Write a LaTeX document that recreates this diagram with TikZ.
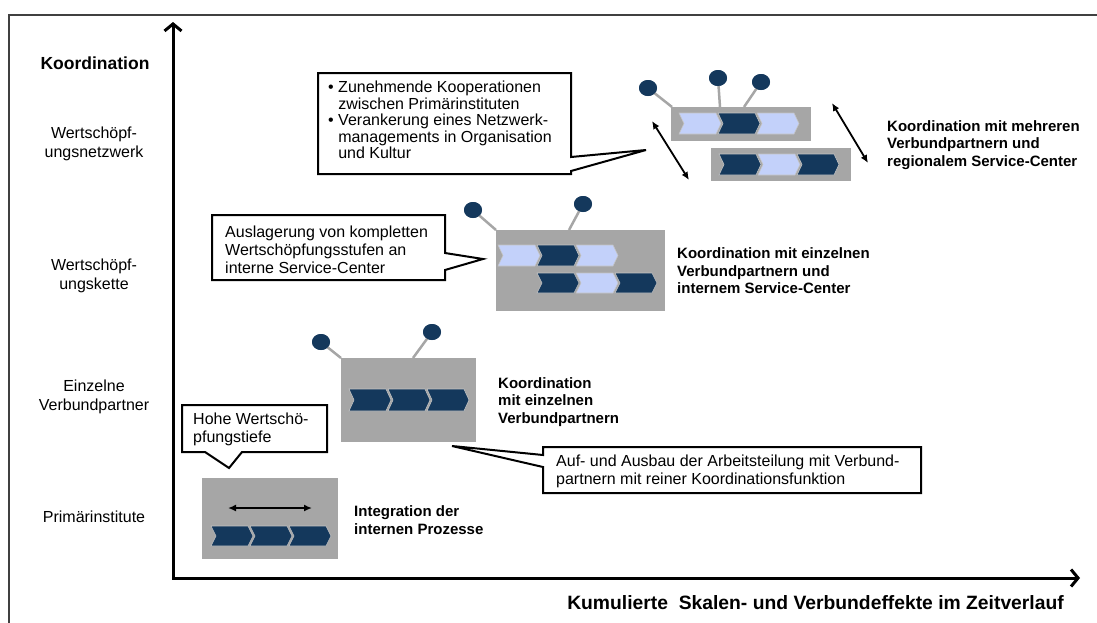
\documentclass[tikz,border=0pt]{standalone}
\usepackage{fontspec}
\setmainfont{Liberation Sans}
\usetikzlibrary{arrows.meta,shapes.geometric,calc}
\definecolor{navy}{HTML}{14385C}
\definecolor{lightblue}{HTML}{C3D1FA}
\definecolor{boxgray}{HTML}{A6A6A6}
\definecolor{gapgray}{HTML}{C4C4C4}
\newcommand\chev[4]{%
  \filldraw[fill=#4,draw=gapgray,line width=0.6pt] (#1,#2) -- ({#1+37},#2) -- ({#1+42},{#2+#3/2}) -- ({#1+37},{#2+#3}) -- (#1,{#2+#3}) -- ({#1+5},{#2+#3/2}) -- cycle;}
\begin{document}
\begin{tikzpicture}[x=1pt,y=-1pt,
  frameline/.style={draw=black!75,line width=1.5pt},
  axis/.style={line width=3pt,line join=miter,arrows={Straight Barb[length=7pt,width=17pt]-Straight Barb[length=7pt,width=17pt]}},
  dbl/.style={line width=1.8pt,arrows={Latex[length=8pt,width=7pt]-Latex[length=8pt,width=7pt]}},
  gbox/.style={fill=boxgray,draw=none,inner sep=0pt,anchor=north west},
  dot/.style={ellipse,fill=navy,draw=none,minimum width=18pt,minimum height=16pt,inner sep=0pt},
  dotline/.style={draw=boxgray,line width=2.5pt},
  callout/.style={draw=black,line width=2pt,fill=white,line join=miter},
  lab/.style={font=\fontsize{16}{18.3}\selectfont,align=center,inner sep=0pt},
  blab/.style={font=\bfseries\fontsize{15}{17.5}\selectfont,align=left,inner sep=0pt,anchor=west},
  ctext/.style={font=\fontsize{16}{18}\selectfont,align=left,inner sep=0pt,anchor=west}]
\useasboundingbox (0,0) rectangle (1097,622);
\draw[frameline] (1100,15) -- (9,15) -- (9,625);

% axes
\coordinate (ytop) at (173,22);
\coordinate (orig) at (173,578);
\coordinate (xend) at (1080,578);
\draw[axis] (ytop) -- (orig) -- (xend);

% left labels
\node[font=\bfseries\fontsize{17.5}{20}\selectfont,inner sep=0pt] (ylab) at (95,63) {Koordination};
\node[lab] (l1) at (94,144) {Wertschöpf-\\ungsnetzwerk};
\node[lab] (l2) at (94,276) {Wertschöpf-\\ungskette};
\node[lab] (l3) at (94,397) {Einzelne\\Verbundpartner};
\node[lab] (l4) at (94,517) {Primärinstitute};
\node[font=\bfseries\fontsize{19.3}{22}\selectfont,inner sep=0pt,anchor=east] (xlab) at (1064,603) {Kumulierte\ \ Skalen- und Verbundeffekte im Zeitverlauf};

% gray boxes
\node[gbox,minimum width=136pt,minimum height=81pt] (boxA) at (202,478) {};
\node[gbox,minimum width=135pt,minimum height=84pt] (boxB) at (341,358) {};
\node[gbox,minimum width=169pt,minimum height=81pt] (boxC) at (496,230) {};
\node[gbox,minimum width=140pt,minimum height=34pt] (boxD) at (671,107) {};
\node[gbox,minimum width=140pt,minimum height=33pt] (boxE) at (711,148) {};

% chevrons
\chev{211}{526}{20}{navy}\chev{250}{526}{20}{navy}\chev{289}{526}{20}{navy}
\chev{349}{389}{22}{navy}\chev{388}{389}{22}{navy}\chev{427}{389}{22}{navy}
\chev{498}{245}{21}{lightblue}\chev{537}{245}{21}{navy}\chev{576}{245}{21}{lightblue}
\chev{537}{273}{20}{navy}\chev{576}{273}{20}{lightblue}\chev{615}{273}{20}{navy}
\chev{679}{113}{21}{lightblue}\chev{718}{113}{21}{navy}\chev{757}{113}{21}{lightblue}
\chev{719}{154}{21}{navy}\chev{758}{154}{21}{lightblue}\chev{797}{154}{21}{navy}

% dots and their lines
\node[dot] (b1) at (321,342) {};
\node[dot] (b2) at (432,332) {};
\node[dot] (c1) at (473,210) {};
\node[dot] (c2) at (583,204) {};
\node[dot] (e1) at (648,88) {};
\node[dot] (e2) at (718,78) {};
\node[dot] (e3) at (761,82) {};
\draw[dotline] (b1.center) -- (boxB.north west);
\draw[dotline] (b2.center) -- ([xshift=72pt]boxB.north west);
\draw[dotline] (c1.center) -- (boxC.north west);
\draw[dotline] (c2.center) -- ([xshift=73pt]boxC.north west);
\draw[dotline] (e1.center) -- ([xshift=1pt]boxD.north west);
\draw[dotline] (e2.center) -- ([xshift=49pt]boxD.north west);
\draw[dotline] (e3.center) -- ([xshift=73pt]boxD.north west);
\node[dot] at (b1) {};
\node[dot] at (b2) {};
\node[dot] at (c1) {};
\node[dot] at (c2) {};
\node[dot] at (e1) {};
\node[dot] at (e2) {};
\node[dot] at (e3) {};

% double arrows
\coordinate (a1) at (228,508);
\coordinate (a2) at (312,508);
\draw[dbl] (a1) -- (a2);
\coordinate (a3) at (652,121);
\coordinate (a4) at (689,180);
\draw[dbl] (a3) -- (a4);
\coordinate (a5) at (832,103);
\coordinate (a6) at (868,163);
\draw[dbl] (a5) -- (a6);

% bold labels
\node[blab] (tA) at (354,520) {Integration der\\internen Prozesse};
\node[blab] (tB) at (498,402) {Koordination\\mit einzelnen\\Verbundpartnern};
\node[blab] (tC) at (677,271) {Koordination mit einzelnen\\Verbundpartnern und\\internem Service-Center};
\node[blab] (tD) at (887,145) {Koordination mit mehreren\\Verbundpartnern und\\regionalem Service-Center};

% callouts
\draw[callout] (318,73) -- (571,73) -- (571,157) -- (646,150) -- (571,171) -- (571,174) -- (318,174) -- cycle;
\node[font=\fontsize{16}{16.5}\selectfont,align=left,inner sep=0pt,anchor=west] (k1) at (328,120)
  {• Zunehmende Kooperationen\\\hphantom{• }zwischen Primärinstituten\\• Verankerung eines Netzwerk-\\\hphantom{• }managements in Organisation\\\hphantom{• }und Kultur};

\draw[callout] (212,215) -- (445,215) -- (445,253) -- (483,259) -- (445,270) -- (445,280) -- (212,280) -- cycle;
\node[ctext] (k2) at (225,250) {Auslagerung von kompletten\\Wertschöpfungsstufen an\\interne Service-Center};

\draw[callout] (182,405) -- (327,405) -- (327,452) -- (242,452) -- (229,468) -- (205,452) -- (182,452) -- cycle;
\node[ctext] (k3) at (193,429) {Hohe Wertschö-\\pfungstiefe};

\draw[callout] (543,447) -- (921,447) -- (921,493) -- (543,493) -- (543,467) -- (452,446) -- (543,455) -- cycle;
\node[ctext] (k4) at (556,471) {Auf- und Ausbau der Arbeitsteilung mit Verbund-\\partnern mit reiner Koordinationsfunktion};
\end{tikzpicture}
\end{document}
